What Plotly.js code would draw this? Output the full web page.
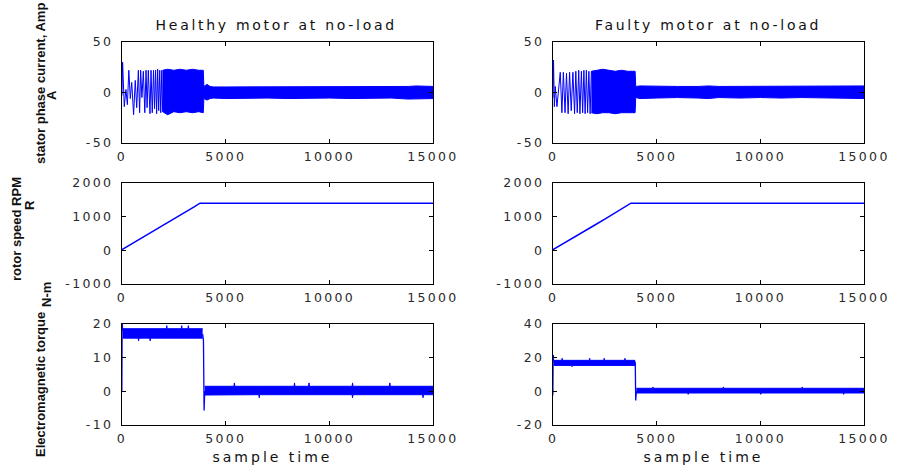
<!DOCTYPE html>
<html><head><meta charset="utf-8">
<script src="https://cdn.plot.ly/plotly-3.0.1.min.js"></script>
<style>
html,body{margin:0;padding:0;background:#fff;}
#chart{width:897px;height:468px;}
g[class$="tick"] > text{letter-spacing:2.3px;}
.annotation[data-index="0"] text,.annotation[data-index="1"] text{letter-spacing:2.7px;}
.annotation[data-index="2"] text,.annotation[data-index="3"] text{letter-spacing:3px;}
</style></head><body><div id="chart"></div>
<script>
// ---------- tick labels ----------
const xTickVals = [0, 5000, 10000, 15000];
const xTickText = ['0', '5000', '10000', '15000'];
const curTickVals = [-50, 0, 50];
const curTickText = ['-50', '0', '50'];
const spdTickVals = [-1000, 0, 1000, 2000];
const spdTickText = ['-1000', '0', '1000', '2000'];
const htqTickVals = [-10, 0, 10, 20];
const htqTickText = ['-10', '0', '10', '20'];
const ftqTickVals = [-20, 0, 20, 40];
const ftqTickText = ['-20', '0', '20', '40'];

// ---------- healthy stator current ----------
const hcWaveX = [0, 30, 110, 190, 260, 330, 400, 470, 560, 640, 710, 790, 850, 900, 960, 1030, 1100, 1160, 1210, 1270, 1350, 1400, 1460, 1520, 1570, 1620, 1670, 1720, 1770, 1820, 1870, 1920, 1960];
const hcWaveY = [-3, 30, -14, 3, -12, 22, -6, 10, -22, 12, -15, 22, -20, 22, -5, 21, -20, 22, -15, 22, -21, 22, -20, 22, -16, 22, -21, 23, -18, 22, -20, 22, -19];
const hcBandX  = [1960, 2200, 2500, 2800, 3100, 3400, 3700, 3920, 3950, 4100, 4250, 4400, 5000, 6000, 6500, 7000, 8000, 9000, 10000, 11000, 12000, 13000, 13800, 14200, 14600, 15000];
const hcBandHi = [22, 23, 22, 23, 22, 23, 22, 22, 6, 8, 6, 5.5, 5.5, 5.5, 5.5, 5.5, 5.5, 5.5, 5.5, 5.5, 5.5, 5.5, 6, 6.5, 6.5, 6];
const hcBandLo = [-19, -22, -19, -20, -19, -20, -19, -20, -6, -7.5, -6, -5.5, -6, -5.5, -5.5, -5.5, -6, -5.5, -5.5, -6, -5.5, -5.5, -6.5, -6.5, -6.5, -6];

// ---------- faulty stator current ----------
const fcWaveX = [0, 25, 65, 110, 190, 270, 350, 430, 500, 580, 650, 730, 800, 880, 960, 1040, 1100, 1170, 1240, 1300, 1370, 1430, 1490, 1550, 1610, 1670, 1730, 1790, 1850];
const fcWaveY = [-5, 32, -14, 6, -14, 3, 20, -20, 20, -20, 19, -21, 20, -18, 20, -21, 21, -20, 22, -21, 21, -20, 22, -21, 22, -20, 21, -21, 21];
const fcBandX  = [1850, 2100, 2400, 2700, 3000, 3300, 3600, 3960, 3990, 4200, 5000, 6000, 7000, 7500, 8000, 9000, 10000, 11000, 12000, 13000, 14000, 14500, 15000];
const fcBandHi = [21, 22, 23, 22, 21, 22, 21, 21, 6, 6.5, 6, 6, 6, 6.5, 6, 6, 6, 6, 6, 6, 6.5, 6.5, 6.5];
const fcBandLo = [-20, -21, -20, -20, -21, -20, -20, -20, -5, -6, -5.5, -5, -5.5, -6, -5, -5.5, -5, -5.5, -5, -5.5, -6, -6, -6];

// ---------- rotor speed ----------
const hsX = [0, 500, 1000, 1500, 2000, 2500, 3000, 3500, 3760, 15000];
const hsY = [20, 200, 380, 570, 750, 930, 1110, 1300, 1400, 1400];
const fsX = [0, 500, 1000, 1500, 2000, 2500, 3000, 3500, 3760, 15000];
const fsY = [20, 195, 375, 560, 745, 925, 1105, 1295, 1400, 1400];

// ---------- healthy torque ----------
const htStartX = [0, 15, 40];
const htStartY = [0, 20, 18];
const htBandX  = [40, 780, 800, 820, 1340, 1360, 1380, 2140, 2160, 2180, 2860, 2880, 2900, 3180, 3200, 3220, 3890];
const htBandHi = [18.6, 18.6, 18.6, 18.6, 18.6, 18.6, 18.6, 18.6, 19.5, 18.6, 18.6, 19.5, 18.6, 18.6, 19.5, 18.6, 18.6];
const htBandLo = [15.8, 15.8, 15.0, 15.8, 15.8, 15.0, 15.8, 15.8, 15.8, 15.8, 15.8, 15.8, 15.8, 15.8, 15.8, 15.8, 15.8];
const htDropX = [3890, 3930, 3960, 3990];
const htDropY = [17, 15, -5.7, 0];
const htSteadyX  = [3990, 5400, 5420, 5440, 6600, 6620, 6640, 8300, 8320, 8340, 9000, 9020, 9040, 11100, 11120, 11140, 12900, 12920, 12940, 14500, 14520, 14540, 15000];
const htSteadyHi = [1.5, 1.5, 2.5, 1.5, 1.5, 1.5, 1.5, 1.5, 2.5, 1.5, 1.5, 2.5, 1.5, 1.5, 2.5, 1.5, 1.5, 2.5, 1.5, 1.5, 1.5, 1.5, 1.5];
const htSteadyLo = [-1.1, -1.0, -1.0, -1.0, -1.0, -1.9, -1.0, -1.0, -1.0, -1.0, -1.0, -1.0, -1.0, -1.0, -1.9, -1.0, -1.0, -1.0, -1.0, -1.0, -1.9, -1.0, -1.0];

// ---------- faulty torque ----------
const ftStartX = [0, 15, 40];
const ftStartY = [-2.4, 21.6, 17];
const ftBandX  = [40, 420, 440, 460, 900, 920, 940, 1750, 1770, 1790, 2450, 2470, 2490, 3450, 3470, 3490, 3960];
const ftBandHi = [18.4, 18.4, 19.6, 18.4, 18.4, 18.4, 18.4, 18.4, 19.6, 18.4, 18.4, 19.6, 18.4, 18.4, 19.6, 18.4, 18.4];
const ftBandLo = [15.4, 15.4, 15.4, 15.4, 15.4, 14.6, 15.4, 15.4, 15.4, 15.4, 15.4, 15.4, 15.4, 15.4, 15.4, 15.4, 15.4];
const ftDropX = [3960, 3967, 3990, 4020];
const ftDropY = [17, 17.6, -5.4, 0];
const ftSteadyX  = [4020, 4800, 4820, 4840, 6500, 6520, 6540, 8200, 8220, 8240, 10000, 10020, 10040, 12000, 12020, 12040, 14000, 14020, 14040, 15000];
const ftSteadyHi = [1.8, 1.8, 2.6, 1.8, 1.8, 1.8, 1.8, 1.8, 2.6, 1.8, 1.8, 1.8, 1.8, 1.8, 2.6, 1.8, 1.8, 1.8, 1.8, 1.8];
const ftSteadyLo = [-1.0, -1.0, -1.0, -1.0, -1.0, -1.8, -1.0, -1.0, -1.0, -1.0, -1.0, -1.8, -1.0, -1.0, -1.0, -1.0, -1.0, -1.8, -1.0, -1.0];

// ---------- drawing ----------
const BLUE = '#0000ff';
function line(x, y, xa, ya, w) {
  return {x: x, y: y, xaxis: xa, yaxis: ya, mode: 'lines', line: {color: BLUE, width: w || 1}, hoverinfo: 'skip', showlegend: false};
}
function band(x, lo, hi, xa, ya) {
  return [
    {x: x, y: lo, xaxis: xa, yaxis: ya, mode: 'lines', line: {color: BLUE, width: 1}, hoverinfo: 'skip', showlegend: false},
    {x: x, y: hi, xaxis: xa, yaxis: ya, mode: 'lines', fill: 'tonexty', fillcolor: BLUE, line: {color: BLUE, width: 1}, hoverinfo: 'skip', showlegend: false}
  ];
}
const data = [].concat(
  [line(hcWaveX, hcWaveY, 'x', 'y')], band(hcBandX, hcBandLo, hcBandHi, 'x', 'y'),
  [line(fcWaveX, fcWaveY, 'x2', 'y2')], band(fcBandX, fcBandLo, fcBandHi, 'x2', 'y2'),
  [line(hsX, hsY, 'x3', 'y3', 1.5)],
  [line(fsX, fsY, 'x4', 'y4', 1.5)],
  [line(htStartX, htStartY, 'x5', 'y5')], band(htBandX, htBandLo, htBandHi, 'x5', 'y5'),
  [line(htDropX, htDropY, 'x5', 'y5', 1.3)], band(htSteadyX, htSteadyLo, htSteadyHi, 'x5', 'y5'),
  [line(ftStartX, ftStartY, 'x6', 'y6')], band(ftBandX, ftBandLo, ftBandHi, 'x6', 'y6'),
  [line(ftDropX, ftDropY, 'x6', 'y6', 1.3)], band(ftSteadyX, ftSteadyLo, ftSteadyHi, 'x6', 'y6')
);

const tickFont = {family: 'DejaVu Sans', size: 12.5, color: '#2a2a2a'};
function xAx(dom, anchor) {
  return {domain: dom, anchor: anchor, range: [0, 15000], tickvals: xTickVals, ticktext: xTickText,
    showline: true, mirror: 'ticks', linecolor: '#000', linewidth: 1.3, ticks: 'inside', ticklen: 4,
    tickcolor: '#000', tickwidth: 1, showgrid: false, zeroline: false, tickfont: tickFont, ticklabelstandoff: 2};
}
function yAx(dom, anchor, rng, tv, tt) {
  return {domain: dom, anchor: anchor, range: rng, tickvals: tv, ticktext: tt,
    showline: true, mirror: 'ticks', linecolor: '#000', linewidth: 1.3, ticks: 'inside', ticklen: 4,
    tickcolor: '#000', tickwidth: 1, showgrid: false, zeroline: false, tickfont: tickFont, ticklabelstandoff: 5};
}
const colL = [0.136, 0.4827], colR = [0.6165, 0.9632];
const rowT = [0.6944, 0.9103], rowM = [0.3932, 0.6090], rowB = [0.0919, 0.3077];

function ann(text, px, py, size, fam, angle, bold) {
  return {text: bold ? '<b>' + text + '</b>' : text, xref: 'paper', yref: 'paper', x: px / 897, y: 1 - py / 468,
    xanchor: 'center', yanchor: 'middle', showarrow: false, textangle: angle,
    font: {family: fam, size: size, color: '#111'}};
}
const layout = {
  width: 897, height: 468, margin: {l: 0, r: 0, t: 0, b: 0},
  paper_bgcolor: '#fff', plot_bgcolor: '#fff', showlegend: false,
  xaxis: xAx(colL, 'y'), yaxis: yAx(rowT, 'x', [-50, 50], curTickVals, curTickText),
  xaxis2: xAx(colR, 'y2'), yaxis2: yAx(rowT, 'x2', [-50, 50], curTickVals, curTickText),
  xaxis3: xAx(colL, 'y3'), yaxis3: yAx(rowM, 'x3', [-1000, 2000], spdTickVals, spdTickText),
  xaxis4: xAx(colR, 'y4'), yaxis4: yAx(rowM, 'x4', [-1000, 2000], spdTickVals, spdTickText),
  xaxis5: xAx(colL, 'y5'), yaxis5: yAx(rowB, 'x5', [-10, 20], htqTickVals, htqTickText),
  xaxis6: xAx(colR, 'y6'), yaxis6: yAx(rowB, 'x6', [-20, 40], ftqTickVals, ftqTickText),
  annotations: [
    ann('Healthy motor at no-load', 276, 25, 14, 'DejaVu Sans', 0, false),
    ann('Faulty motor at no-load', 708, 25, 14, 'DejaVu Sans', 0, false),
    ann('sample time', 272, 457, 14, 'DejaVu Sans', 0, false),
    ann('sample time', 703, 457, 14, 'DejaVu Sans', 0, false),
    ann('stator phase current, Amp', 40, 84, 13, 'Liberation Sans', -90, true),
    ann('A', 52, 95, 13, 'Liberation Sans', -90, true),
    ann('rotor speed RPM', 16, 229, 13, 'Liberation Sans', -90, true),
    ann('R', 29, 205, 13, 'Liberation Sans', -90, true),
    ann('N-m', 46, 295, 13, 'Liberation Sans', -90, true),
    ann('Electromagnetic torque', 40, 385, 13, 'Liberation Sans', -90, true)
  ]
};
Plotly.newPlot('chart', data, layout, {staticPlot: true, displayModeBar: false});
</script></body></html>
